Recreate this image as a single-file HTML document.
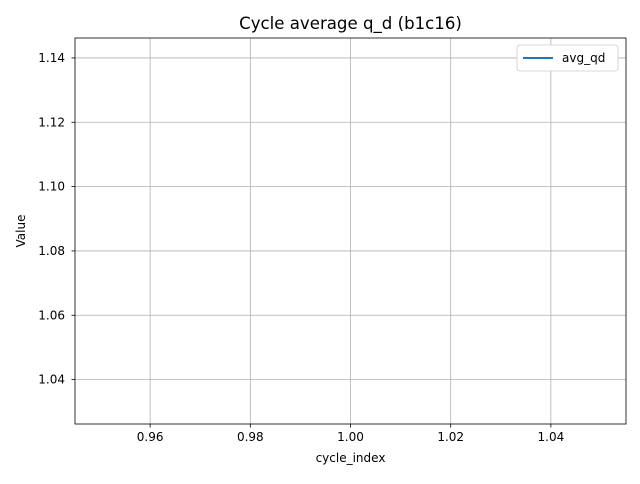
<!DOCTYPE html>
<html><head><meta charset="utf-8"><style>
body{margin:0;background:#fff;font-family:"DejaVu Sans","Liberation Sans",sans-serif}
svg text{font-family:"DejaVu Sans","Liberation Sans",sans-serif}
</style></head><body>
<svg id="c" width="640" height="480" xmlns="http://www.w3.org/2000/svg"></svg>
<script>
const cycleIndex=[1];
const avgQd=[1.0862];
const xTicks=[0.96,0.98,1.00,1.02,1.04];
const yTicks=[1.04,1.06,1.08,1.10,1.12,1.14];
const L=75,R=626,T=38,B=424;
const xMin=0.945,xMax=1.055,yMin=1.0262,yMax=1.1462;
const sx=v=>L+(v-xMin)/(xMax-xMin)*(R-L);
const sy=v=>B-(v-yMin)/(yMax-yMin)*(B-T);
const svg=document.getElementById('c');
const NS='http://www.w3.org/2000/svg';
function mk(tag,attrs,parent){const e=document.createElementNS(NS,tag);for(const k in attrs)e.setAttribute(k,attrs[k]);(parent||svg).appendChild(e);return e;}
const grid=mk('g',{});


xTicks.forEach(t=>{const x=sx(t);
mk('line',{x1:x,x2:x,y1:T,y2:B,stroke:'#b0b0b0','stroke-width':0.8},grid);
mk('line',{x1:x,x2:x,y1:B,y2:B+3.5,stroke:'#000','stroke-width':0.8});
const lb=mk('text',{x:x,y:B+17,'text-anchor':'middle','font-size':12});
lb.textContent=t.toFixed(2);

});
yTicks.forEach(t=>{const y=sy(t);
mk('line',{x1:L,x2:R,y1:y,y2:y,stroke:'#b0b0b0','stroke-width':0.8},grid);
mk('line',{x1:L-3.5,x2:L,y1:y,y2:y,stroke:'#000','stroke-width':0.8});
const lb=mk('text',{x:L-10,y:y+4,'text-anchor':'end','font-size':12});
lb.textContent=t.toFixed(2);

});
const line=mk('polyline',{points:cycleIndex.map((c,i)=>sx(c)+','+sy(avgQd[i])).join(' '),fill:'none',stroke:'#1f77b4','stroke-width':2});


const fr=mk('rect',{x:L,y:T,width:R-L,height:B-T,fill:'none',stroke:'#000','stroke-width':0.8});


const ti=mk('text',{x:(L+R)/2,y:T-9,'text-anchor':'middle','font-size':16.6});
ti.textContent='Cycle average q_d (b1c16)';


const xl=mk('text',{x:(L+R)/2,y:462,'text-anchor':'middle','font-size':12});
xl.textContent='cycle_index';


const yl=mk('text',{x:0,y:0,'text-anchor':'middle','font-size':12,transform:'translate(25,'+((T+B)/2)+') rotate(-90)'});
yl.textContent='Value';


const lg=mk('g',{});


mk('rect',{x:517,y:45,width:101,height:26,rx:3,fill:'#fff',stroke:'#cccccc','stroke-width':0.8},lg);
mk('line',{x1:523,x2:553,y1:58,y2:58,stroke:'#1f77b4','stroke-width':2},lg);
const lt=mk('text',{x:562,y:62,'font-size':12},lg);
lt.textContent='avg_qd';


</script>
</body></html>
